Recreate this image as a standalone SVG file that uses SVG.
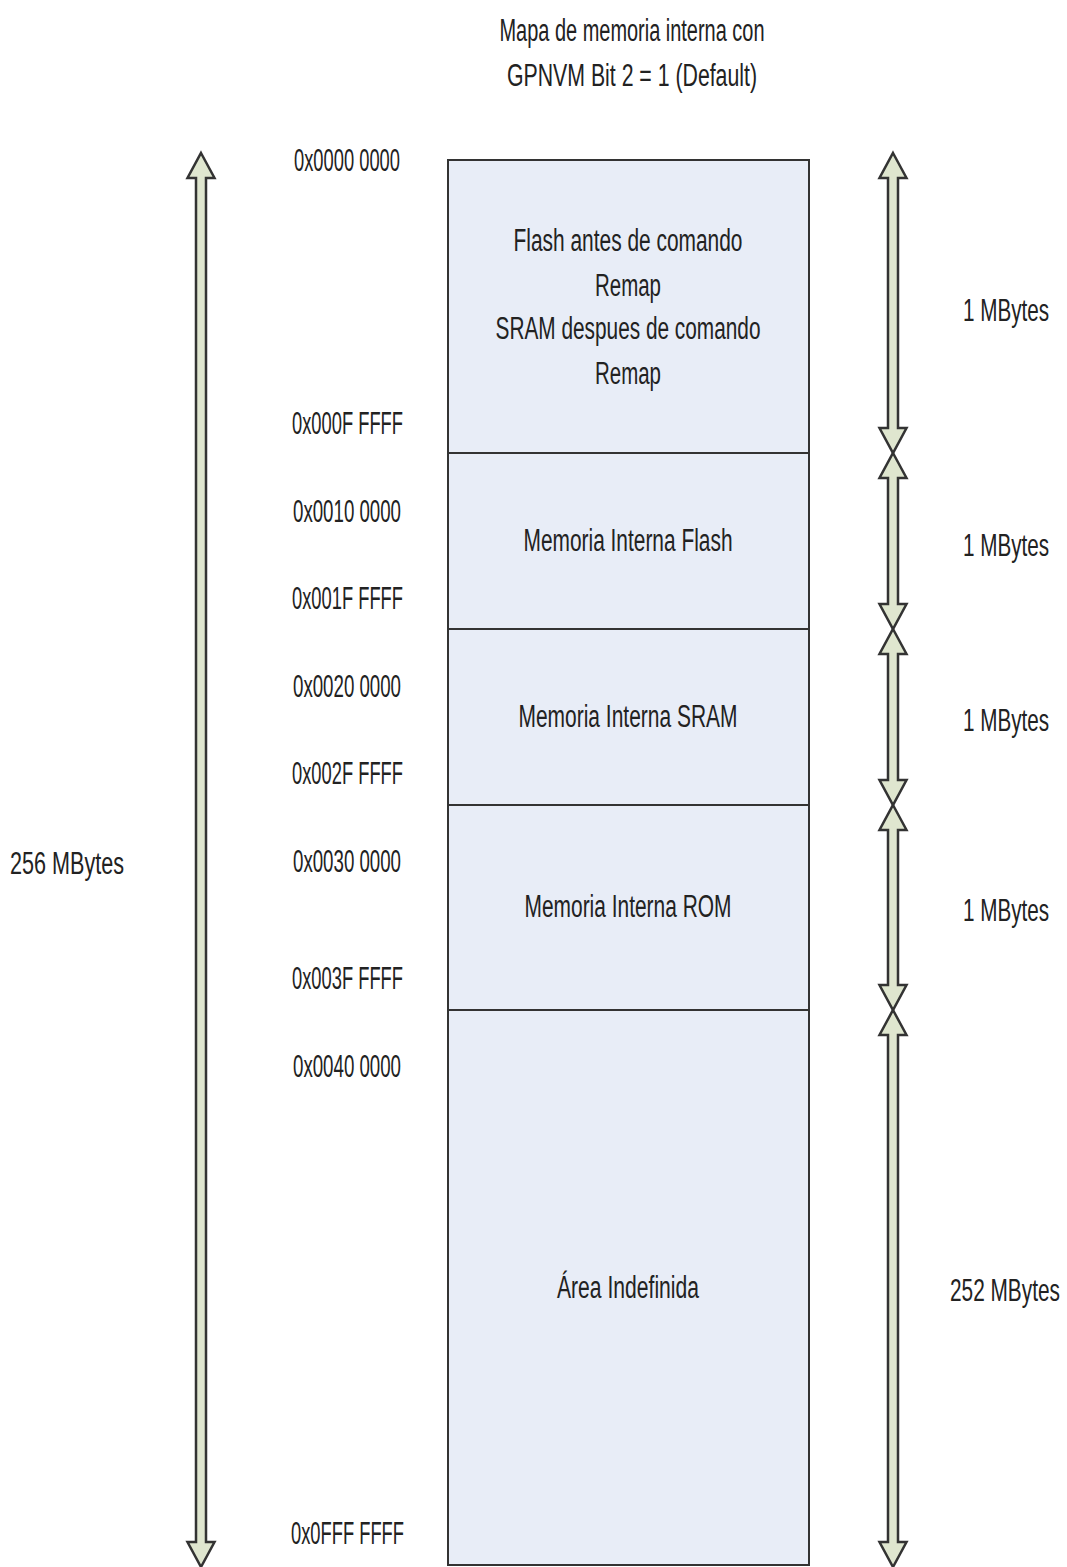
<svg xmlns="http://www.w3.org/2000/svg" width="1067" height="1567" viewBox="0 0 1067 1567">
<style>
text{font-family:"Liberation Sans",Arial,sans-serif;font-size:31px;fill:#222;}
.c{text-anchor:middle;}
.box{fill:#e8edf7;stroke:#333;stroke-width:2;}
.arr{fill:#dfe6cf;stroke:#333;stroke-width:2.5;stroke-linejoin:miter;}
</style>
<rect width="1067" height="1567" fill="#fff"/>
<g id="title">
<text class="c" x="632" y="41" textLength="265" lengthAdjust="spacingAndGlyphs">Mapa de memoria interna con</text>
<text class="c" x="632" y="86" textLength="250" lengthAdjust="spacingAndGlyphs">GPNVM Bit 2 = 1 (Default)</text>
</g>
<g id="connectors">
<path class="arr" d="M201,153 L214.5,178 L206,178 L206,1542 L214.5,1542 L201,1567 L187.5,1542 L196,1542 L196,178 L187.5,178 Z"/>
<path class="arr" d="M893,153 L906.5,178 L898,178 L898,428 L906.5,428 L893,453 L879.5,428 L888,428 L888,178 L879.5,178 Z"/>
<path class="arr" d="M893,453 L906.5,478 L898,478 L898,604 L906.5,604 L893,629 L879.5,604 L888,604 L888,478 L879.5,478 Z"/>
<path class="arr" d="M893,629 L906.5,654 L898,654 L898,780 L906.5,780 L893,805 L879.5,780 L888,780 L888,654 L879.5,654 Z"/>
<path class="arr" d="M893,805 L906.5,830 L898,830 L898,985 L906.5,985 L893,1010 L879.5,985 L888,985 L888,830 L879.5,830 Z"/>
<path class="arr" d="M893,1010 L906.5,1035 L898,1035 L898,1542 L906.5,1542 L893,1567 L879.5,1542 L888,1542 L888,1035 L879.5,1035 Z"/>
</g>
<g id="node-remap">
<rect class="box" x="448" y="160" width="361" height="293"/>
<text class="c" x="628" y="251" textLength="229" lengthAdjust="spacingAndGlyphs">Flash antes de comando</text>
<text class="c" x="628" y="296" textLength="66" lengthAdjust="spacingAndGlyphs">Remap</text>
<text class="c" x="628" y="339" textLength="265" lengthAdjust="spacingAndGlyphs">SRAM despues de comando</text>
<text class="c" x="628" y="384" textLength="66" lengthAdjust="spacingAndGlyphs">Remap</text>
</g>
<g id="node-flash">
<rect class="box" x="448" y="453" width="361" height="176"/>
<text class="c" x="628" y="551" textLength="209" lengthAdjust="spacingAndGlyphs">Memoria Interna Flash</text>
</g>
<g id="node-sram">
<rect class="box" x="448" y="629" width="361" height="176"/>
<text class="c" x="628" y="727" textLength="219" lengthAdjust="spacingAndGlyphs">Memoria Interna SRAM</text>
</g>
<g id="node-rom">
<rect class="box" x="448" y="805" width="361" height="205"/>
<text class="c" x="628" y="917" textLength="207" lengthAdjust="spacingAndGlyphs">Memoria Interna ROM</text>
</g>
<g id="node-undef">
<rect class="box" x="448" y="1010" width="361" height="555"/>
<text class="c" x="628" y="1298" textLength="142" lengthAdjust="spacingAndGlyphs">Área Indefinida</text>
</g>
<g id="addresses">
<text x="294" y="171" textLength="106" lengthAdjust="spacingAndGlyphs">0x0000 0000</text>
<text x="292" y="434" textLength="111" lengthAdjust="spacingAndGlyphs">0x000F FFFF</text>
<text x="293" y="522" textLength="108" lengthAdjust="spacingAndGlyphs">0x0010 0000</text>
<text x="292" y="609" textLength="111" lengthAdjust="spacingAndGlyphs">0x001F FFFF</text>
<text x="293" y="697" textLength="108" lengthAdjust="spacingAndGlyphs">0x0020 0000</text>
<text x="292" y="784" textLength="111" lengthAdjust="spacingAndGlyphs">0x002F FFFF</text>
<text x="293" y="872" textLength="108" lengthAdjust="spacingAndGlyphs">0x0030 0000</text>
<text x="292" y="989" textLength="111" lengthAdjust="spacingAndGlyphs">0x003F FFFF</text>
<text x="293" y="1077" textLength="108" lengthAdjust="spacingAndGlyphs">0x0040 0000</text>
<text x="291" y="1544" textLength="113" lengthAdjust="spacingAndGlyphs">0x0FFF FFFF</text>
</g>
<g id="sizes">
<text x="10" y="874" textLength="114" lengthAdjust="spacingAndGlyphs">256 MBytes</text>
<text transform="translate(963,321) scale(0.667,1)">1 MBytes</text>
<text transform="translate(963,556) scale(0.667,1)">1 MBytes</text>
<text transform="translate(963,731) scale(0.667,1)">1 MBytes</text>
<text transform="translate(963,921) scale(0.667,1)">1 MBytes</text>
<text transform="translate(950,1301) scale(0.672,1)">252 MBytes</text>
</g>
</svg>
